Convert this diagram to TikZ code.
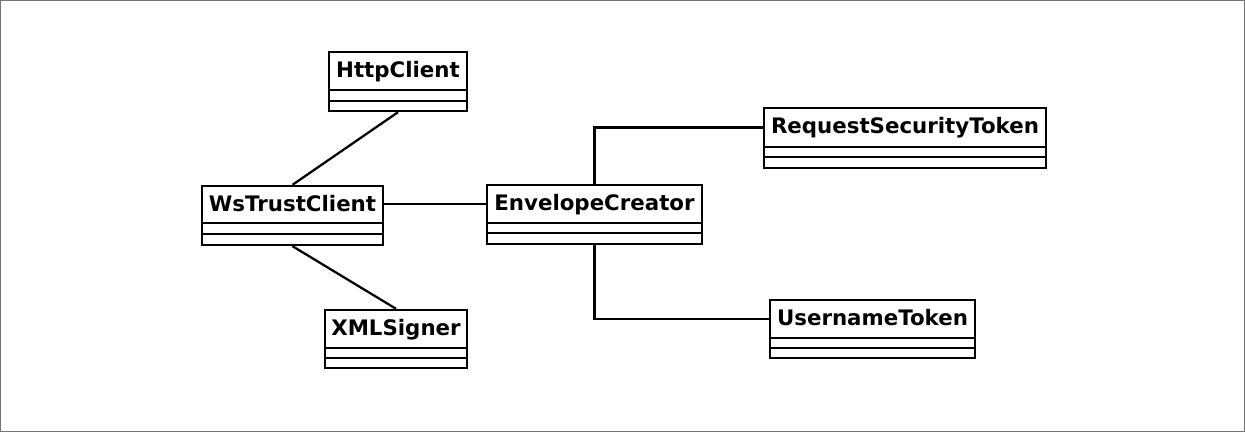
\documentclass[tikz,border=0pt]{standalone}
\usepackage{fontspec}
\setmainfont{DejaVu Sans}
\usetikzlibrary{fit}
\tikzset{
  clsbox/.style={draw=black, line width=1.8pt, inner sep=0pt, fill=white},
  clsname/.style={font=\fontsize{16}{19}\selectfont\bfseries, inner sep=0pt, anchor=base},
  cmpline/.style={draw=black, line width=1.8pt},
  conn/.style={draw=black, line width=1.7pt},
  frame/.style={draw=black!55, line width=0.75pt}
}
% #1 name, #2 left, #3 top, #4 right, #5 bottom, #6 line1, #7 line2, #8 text
\newcommand\umlbox[8]{%
  \node[clsbox, fit={(#2,#3) (#4,#5)}] (#1) {};
  \coordinate (#1c) at ({(#2+#4)/2},{(#3+#6)/2});
  \node[clsname] (#1l) at ({(#2+#4)/2},{#3+25.5}) {#8};
  \draw[cmpline] (#2,#6) -- (#4,#6);
  \draw[cmpline] (#2,#7) -- (#4,#7);
}
\begin{document}
\begin{tikzpicture}[x=0.75pt,y=-0.75pt]
\useasboundingbox (0,0) rectangle (1245,432);
\draw[frame] (0.5,0.5) rectangle (1244.5,431.5);

\umlbox{http}{329}{52}{467}{111}{90}{101}{HttpClient}
\umlbox{ws}{202}{186}{383}{245}{223}{234}{WsTrustClient}
\umlbox{xml}{325}{310}{467}{368}{348}{358}{XMLSigner}
\umlbox{env}{487}{185}{702}{244}{223}{233}{EnvelopeCreator}
\umlbox{rst}{764}{108}{1046}{168}{147}{157}{RequestSecurityToken}
\umlbox{usr}{770}{300}{975}{358}{338}{348}{UsernameToken}

\draw[conn] (http.south) -- (ws.north);
\draw[conn] (ws.south) -- (xml.north);
\draw[conn] (ws.east |- envc) -- (env.west |- envc);
\draw[conn] (env.north) |- (rst.west |- rstc);
\draw[conn] (env.south) |- (usr.west |- usrc);
\end{tikzpicture}
\end{document}
